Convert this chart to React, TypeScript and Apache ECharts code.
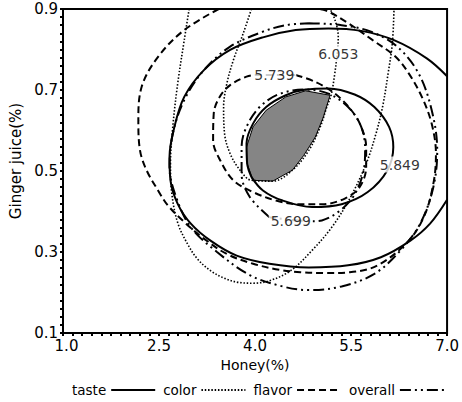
import React, { useEffect, useRef } from "react";
import * as echarts from "echarts";

const xTicks = [1.0, 2.5, 4.0, 5.5, 7.0];
const yTicks = [0.1, 0.3, 0.5, 0.7, 0.9];
const seriesNames = ["taste", "color", "flavor", "overall"];

const tasteOuter = [
  [7.0, 0.734], [6.683, 0.778], [6.171, 0.823], [5.659, 0.846], [5.147, 0.852],
  [4.635, 0.848], [4.123, 0.83], [3.611, 0.799], [3.201, 0.749], [2.894, 0.683],
  [2.741, 0.609], [2.664, 0.535], [2.679, 0.477], [2.792, 0.419], [2.997, 0.37],
  [3.304, 0.328], [3.713, 0.291], [4.225, 0.271], [4.84, 0.262], [5.454, 0.267],
  [5.966, 0.287], [6.427, 0.328], [6.734, 0.37], [7.0, 0.429],
];
const tasteInner = [
  [3.944, 0.485], [4.123, 0.452], [4.43, 0.427], [4.891, 0.411], [5.352, 0.418],
  [5.761, 0.448], [6.068, 0.502], [6.16, 0.559], [6.094, 0.609], [5.864, 0.658],
  [5.556, 0.689], [5.147, 0.704], [4.788, 0.701], [4.481, 0.687], [4.174, 0.658],
  [3.969, 0.617], [3.867, 0.568], [3.877, 0.518], [3.944, 0.485],
];
const colorOuter = [
  [2.971, 0.9], [2.894, 0.823], [2.792, 0.716], [2.715, 0.609], [2.679, 0.518],
  [2.7, 0.444], [2.792, 0.372], [2.945, 0.32], [3.099, 0.283], [3.304, 0.254],
  [3.509, 0.236], [3.739, 0.225], [3.969, 0.223], [4.225, 0.229], [4.558, 0.254],
  [4.891, 0.304], [5.198, 0.361], [5.48, 0.432], [5.736, 0.518], [5.889, 0.592],
  [5.992, 0.658], [6.079, 0.741], [6.145, 0.815], [6.171, 0.9],
];
const colorInner = [
  [3.944, 0.9], [3.816, 0.84], [3.662, 0.774], [3.56, 0.716], [3.509, 0.658],
  [3.524, 0.592], [3.611, 0.543], [3.765, 0.502], [3.944, 0.477], [4.277, 0.475],
  [4.584, 0.502], [4.84, 0.551], [5.019, 0.609], [5.121, 0.658], [5.188, 0.687],
  [5.239, 0.733], [5.29, 0.799], [5.3, 0.832], [5.249, 0.873], [5.172, 0.9],
];
const flavorOuter = [
  [3.432, 0.9], [2.894, 0.848], [2.485, 0.782], [2.229, 0.708], [2.177, 0.625],
  [2.203, 0.551], [2.305, 0.502], [2.485, 0.452], [2.638, 0.415], [2.894, 0.374],
  [3.201, 0.333], [3.56, 0.295], [3.969, 0.271], [4.379, 0.256], [4.712, 0.25],
  [5.096, 0.248], [5.48, 0.25], [5.915, 0.267], [6.401, 0.328], [6.657, 0.394],
  [6.795, 0.477], [6.826, 0.543], [6.759, 0.617], [6.606, 0.683], [6.401, 0.741],
  [6.196, 0.782], [5.838, 0.823], [5.454, 0.865], [5.07, 0.898], [4.942, 0.9],
];
const flavorInner = [
  [4.635, 0.737], [4.942, 0.72], [5.249, 0.691], [5.505, 0.65], [5.659, 0.609],
  [5.736, 0.559], [5.736, 0.51], [5.633, 0.46], [5.403, 0.432], [5.044, 0.418],
  [4.686, 0.418], [4.328, 0.427], [3.969, 0.448], [3.662, 0.477], [3.457, 0.526],
  [3.345, 0.576], [3.355, 0.642], [3.447, 0.683], [3.611, 0.712], [3.867, 0.733],
  [4.02, 0.737], [4.635, 0.737],
];
const overallOuter = [
  [4.84, 0.865], [5.352, 0.86], [5.812, 0.844], [6.222, 0.807], [6.555, 0.741],
  [6.76, 0.65], [6.846, 0.551], [6.785, 0.46], [6.58, 0.37], [6.273, 0.304],
  [5.864, 0.246], [5.352, 0.215], [4.84, 0.206], [4.43, 0.215], [3.918, 0.243],
  [3.406, 0.3], [2.997, 0.361], [2.766, 0.436], [2.664, 0.51], [2.715, 0.592],
  [2.894, 0.675], [3.201, 0.749], [3.611, 0.807], [4.123, 0.844], [4.481, 0.86],
  [4.84, 0.865],
];
const overallInner = [
  [4.225, 0.386], [3.918, 0.436], [3.79, 0.493], [3.79, 0.559], [3.867, 0.609],
  [4.072, 0.658], [4.379, 0.69], [4.788, 0.701], [5.147, 0.691], [5.454, 0.658],
  [5.659, 0.609], [5.72, 0.551], [5.685, 0.493], [5.531, 0.436], [5.3, 0.399],
  [5.044, 0.378], [4.891, 0.376], [4.225, 0.386],
];
const optimumRegion = [
  [3.969, 0.477], [3.877, 0.518], [3.867, 0.559], [3.969, 0.609], [4.174, 0.65],
  [4.481, 0.683], [4.788, 0.698], [5.172, 0.687], [5.07, 0.634], [4.942, 0.584],
  [4.763, 0.539], [4.584, 0.502], [4.277, 0.475],
];
const contourLabels = ["6.053", "5.739", "5.849", "5.699"];
const contourLabelPos = [[5.3, 0.79], [4.302, 0.737], [6.263, 0.516], [4.558, 0.376]];

const FONT = "'DejaVu Sans', sans-serif";

export default function App() {
  const ref = useRef<HTMLDivElement>(null);
  useEffect(() => {
    if (!ref.current) return;
    const chart = echarts.init(ref.current, null, { renderer: "svg" });
    const X0 = xTicks[0];
    const Y0 = yTicks[0];
    const shift = (p: number[]) => [p[0] - X0, p[1] - Y0];
    const xInt = xTicks[1] - xTicks[0];
    const yInt = yTicks[1] - yTicks[0];
    const styles: Record<string, any> = {
      taste: { type: "solid", width: 2 },
      color: { type: [1.5, 1.8], width: 1.6 },
      flavor: { type: [7, 4], width: 2 },
      overall: { type: [11, 4, 2, 4, 2, 4], width: 2 },
    };
    const curves: [string, number[][]][] = [
      ["taste", tasteOuter], ["taste", tasteInner],
      ["color", colorOuter], ["color", colorInner],
      ["flavor", flavorOuter], ["flavor", flavorInner],
      ["overall", overallOuter], ["overall", overallInner],
    ];
    const lineSeries = curves.map(([name, pts]) => ({
      type: "line",
      name,
      data: pts.map(shift),
      symbol: "none",
      showSymbol: false,
      smooth: 0.35,
      lineStyle: { color: "#000", ...styles[name] },
      itemStyle: { color: "#000" },
      z: 3,
    }));
    const mkAxis = () => ({
      type: "value",
      splitLine: { show: false },
      axisLine: { show: true, onZero: false, lineStyle: { color: "#000", width: 2 } },
      axisTick: { show: true, inside: false, length: 3, lineStyle: { color: "#000", width: 2 } },
      minorTick: { show: true, splitNumber: 10, length: 3, lineStyle: { color: "#000", width: 2 } },
      nameLocation: "middle",
    });
    chart.setOption({
      animation: false,
      backgroundColor: "#fff",
      grid: { left: 63, right: 8, top: 9, bottom: 69, show: true, borderColor: "#000", borderWidth: 2 },
      xAxis: {
        ...mkAxis(),
        min: 0,
        max: xTicks[xTicks.length - 1] - X0,
        interval: xInt,
        name: "Honey(%)",
        nameGap: 23,
        nameTextStyle: { fontSize: 14, color: "#000", fontFamily: FONT },
        axisLabel: {
          fontSize: 15,
          color: "#000",
          fontFamily: FONT,
          margin: 5,
          formatter: (v: number) => (v === 0 ? "{f|" + (v + X0).toFixed(1) + "}" : (v + X0).toFixed(1)),
          rich: { f: { fontSize: 15, color: "#000", fontFamily: FONT, padding: [0, 0, 0, 7] } },
        },
      },
      yAxis: {
        ...mkAxis(),
        min: 0,
        max: yTicks[yTicks.length - 1] - Y0,
        interval: yInt,
        name: "Ginger juice(%)",
        nameGap: 38,
        nameTextStyle: { fontSize: 15, color: "#000", fontFamily: FONT, padding: [0, 0, 0, 20] },
        axisLabel: {
          fontSize: 15,
          color: "#000",
          fontFamily: FONT,
          margin: 5,
          formatter: (v: number) => (v + Y0).toFixed(1),
        },
      },
      legend: {
        data: seriesNames,
        top: 383,
        left: 72,
        width: 390,
        padding: 0,
        align: "right",
        itemGap: 7,
        itemWidth: 44,
        itemHeight: 12,
        selectedMode: false,
        itemStyle: { opacity: 0 },
        textStyle: { fontSize: 13.5, color: "#000", fontFamily: FONT },
      },
      series: [
        {
          type: "custom",
          data: [[0, 0]],
          silent: true,
          z: 1,
          renderItem: (_p: any, api: any) => ({
            type: "polygon",
            shape: { points: optimumRegion.map((p) => api.coord(shift(p))) },
            style: { fill: "#858585", stroke: "#000", lineWidth: 1 },
          }),
        },
        ...lineSeries,
        {
          type: "scatter",
          data: contourLabelPos.map((p, i) => ({ value: shift(p), label: { formatter: contourLabels[i] } })),
          symbol: "circle",
          symbolSize: 1,
          itemStyle: { color: "rgba(0,0,0,0)" },
          silent: true,
          z: 10,
          label: {
            show: true,
            position: "inside",
            fontSize: 14,
            color: "#000",
            fontFamily: FONT,
            backgroundColor: "#fff",
            padding: [1, 2],
          },
        },
      ],
    });
    return () => chart.dispose();
  }, []);
  return <div ref={ref} style={{ position: "fixed", left: 0, top: 0, width: 462, height: 402 }} />;
}
